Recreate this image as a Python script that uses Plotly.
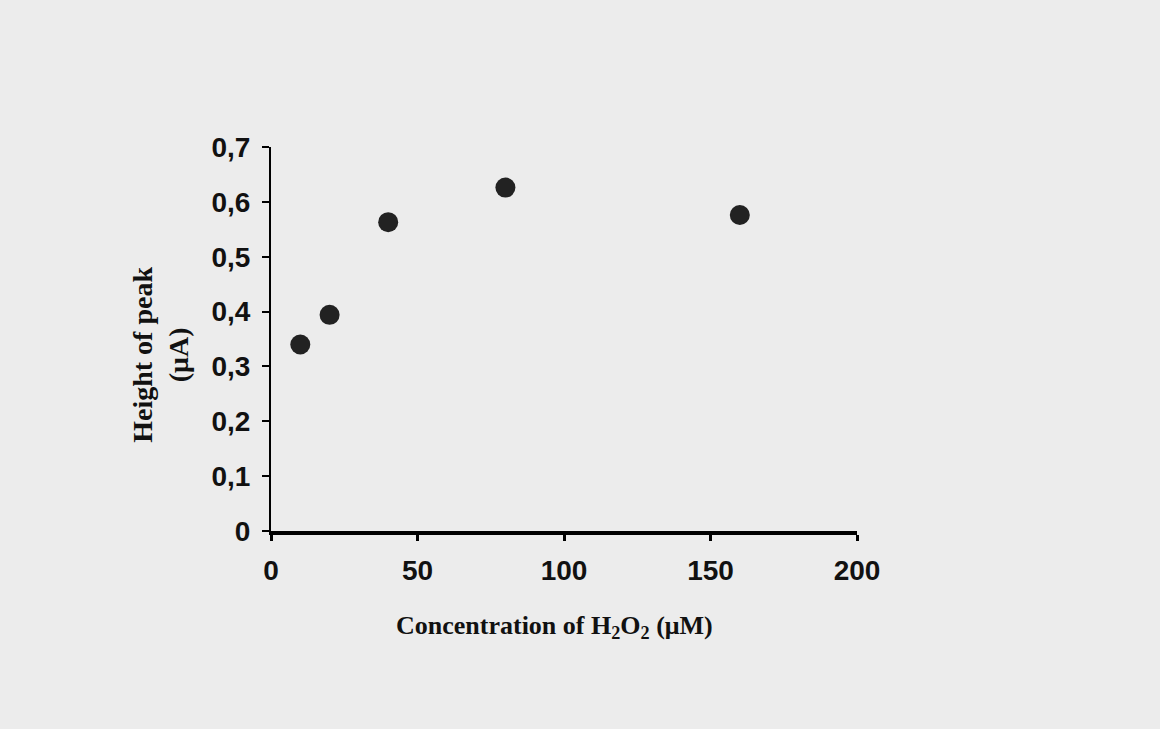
import plotly.graph_objects as go

conc = [10, 20, 40, 80, 160]
height = [0.340, 0.394, 0.563, 0.626, 0.576]
x_ticks = [0, 50, 100, 150, 200]
x_labels = ["0", "50", "100", "150", "200"]
y_ticks = [0, 0.1, 0.2, 0.3, 0.4, 0.5, 0.6, 0.7]
y_labels = ["0", "0,1", "0,2", "0,3", "0,4", "0,5", "0,6", "0,7"]
x_title = "Concentration of H<sub>2</sub>O<sub>2</sub> (μM)"
y_title = "Height of peak<br>(μA)"

BG = "#ececec"
fig = go.Figure()
fig.add_trace(go.Scatter(
    x=conc, y=height, mode="markers",
    marker=dict(size=20, color="#222222", line=dict(width=0)),
    showlegend=False,
))

tickfont = dict(family="Liberation Sans, Arial, sans-serif", size=28, color="#111111")
fig.update_layout(
    width=1160, height=729,
    margin=dict(l=271, r=303, t=147, b=198),
    paper_bgcolor=BG, plot_bgcolor=BG,
    font=dict(family="Liberation Sans, Arial, sans-serif", color="#111111"),
    xaxis=dict(
        range=[0, 200], tickvals=x_ticks, ticktext=["<b>%s</b>" % t for t in x_labels],
        showgrid=False, zeroline=False,
        showline=True, linecolor="#000000", linewidth=4,
        ticks="outside", ticklen=6, tickwidth=3, tickcolor="#000000",
        tickfont=tickfont, ticklabelstandoff=5,
    ),
    yaxis=dict(
        range=[0, 0.7], tickvals=y_ticks, ticktext=["<b>%s</b>" % t for t in y_labels],
        showgrid=False, zeroline=False,
        showline=True, linecolor="#000000", linewidth=2,
        ticks="outside", ticklen=7, tickwidth=2, tickcolor="#000000",
        tickfont=tickfont, ticklabelstandoff=6,
    ),
    annotations=[
        dict(text="<b>" + x_title + "</b>", xref="paper", yref="paper", x=0.4846, y=-0.25,
             xanchor="center", yanchor="middle", showarrow=False,
             font=dict(family="Liberation Serif, Times New Roman, serif", size=26, color="#111111")),
        dict(text="<b>" + y_title + "</b>", xref="paper", yref="paper", x=-0.19, y=0.458,
             xanchor="center", yanchor="middle", showarrow=False, textangle=-90,
             font=dict(family="Liberation Serif, Times New Roman, serif", size=28, color="#111111")),
    ],
)
fig.write_html(
    "out.html",
    config={"displayModeBar": False},
    post_script="document.body.style.margin='0';document.body.style.background='%s';" % BG,
)
